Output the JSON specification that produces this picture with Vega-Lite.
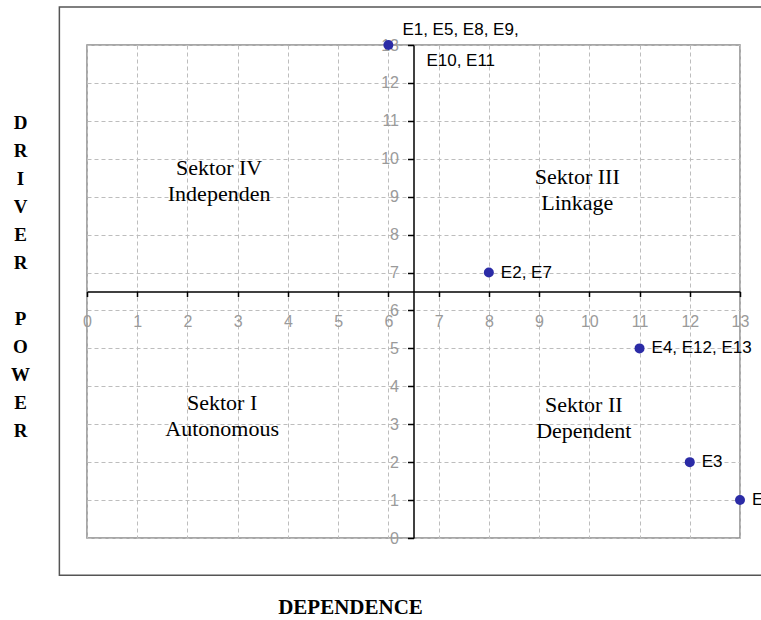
{
  "$schema": "https://vega.github.io/schema/vega-lite/v6.json",
  "width": 653,
  "height": 493,
  "autosize": {"type": "none"},
  "padding": {"left": 87, "top": 45, "right": 21, "bottom": 82},
  "background": "white",
  "config": {
    "view": {"stroke": "#8a8a8a", "strokeWidth": 1.5},
    "axisY": {"tickCount": 14, "labelOverlap": false},
    "axisX": {"tickCount": 14, "labelOverlap": false}
  },
  "datasets": {
    "elements": [
      {"dependence": 6, "driver": 13, "label": "E1, E5, E8, E9,\n\u2800\u2800E10, E11"},
      {"dependence": 8, "driver": 7, "label": "E2, E7"},
      {"dependence": 11, "driver": 5, "label": "E4, E12, E13"},
      {"dependence": 12, "driver": 2, "label": "E3"},
      {"dependence": 13, "driver": 1, "label": "E6"}
    ],
    "sectors": [
      {"dependence": 2.63, "driver": 9.76, "label": "Sektor IV\nIndependen"},
      {"dependence": 9.76, "driver": 9.52, "label": "Sektor III\nLinkage"},
      {"dependence": 2.69, "driver": 3.56, "label": "Sektor I\nAutonomous"},
      {"dependence": 9.89, "driver": 3.51, "label": "Sektor II\nDependent"}
    ],
    "frame": [{}]
  },
  "layer": [
    {
      "data": {"name": "elements"},
      "mark": {"type": "point", "filled": true, "size": 100, "color": "#2b2ba6", "opacity": 1},
      "encoding": {
        "x": {
          "field": "dependence", "type": "quantitative",
          "scale": {"domain": [0, 13], "nice": false, "zero": false},
          "axis": {
            "orient": "bottom", "offset": -246.5,
            "values": [0, 1, 2, 3, 4, 5, 6, 7, 8, 9, 10, 11, 12, 13], "tickCount": 14,
            "grid": true, "gridColor": "#bdbdbd", "gridDash": [4, 3], "gridWidth": 1,
            "domainColor": "#000000", "domainWidth": 1.5,
            "tickColor": "#000000", "tickWidth": 1.5, "tickSize": 5,
            "labelColor": "#9a9a9a", "labelFont": "Liberation Sans", "labelFontSize": 16,
            "labelPadding": 17, "labelFlush": false, "labelOverlap": false,
            "title": "DEPENDENCE", "titleFont": "Liberation Serif", "titleFontWeight": "bold",
            "titleFontSize": 21, "titleColor": "#000000",
            "titleX": 263, "titleY": 316, "titleBaseline": "middle", "titleAlign": "center", "titleAngle": 0
          }
        },
        "y": {
          "field": "driver", "type": "quantitative",
          "scale": {"domain": [0, 13], "nice": false, "zero": false},
          "axis": {
            "orient": "left", "offset": -326.5,
            "values": [0, 1, 2, 3, 4, 5, 6, 7, 8, 9, 10, 11, 12, 13], "tickCount": 14,
            "grid": true, "gridColor": "#bdbdbd", "gridDash": [4, 3], "gridWidth": 1,
            "domainColor": "#000000", "domainWidth": 1.5,
            "tickColor": "#000000", "tickWidth": 1.5, "tickSize": 6,
            "labelColor": "#9a9a9a", "labelFont": "Liberation Sans", "labelFontSize": 16,
            "labelPadding": 9, "labelFlush": false, "labelOverlap": false,
            "title": ["D", "R", "I", "V", "E", "R", "\u2800", "P", "O", "W", "E", "R"],
            "titleFont": "Liberation Serif", "titleFontWeight": "bold", "titleFontSize": 19,
            "titleColor": "#000000", "titleLineHeight": 28,
            "titleX": -393.5, "titleY": 77, "titleBaseline": "middle", "titleAlign": "center", "titleAngle": 0
          }
        }
      }
    },
    {
      "data": {"name": "elements"},
      "transform": [{"filter": "datum.driver != 13"}],
      "mark": {"type": "text", "align": "left", "baseline": "middle", "dx": 12, "font": "Liberation Sans", "fontSize": 17, "color": "#000000"},
      "encoding": {
        "x": {"field": "dependence", "type": "quantitative", "scale": {"domain": [0, 13], "nice": false, "zero": false}},
        "y": {"field": "driver", "type": "quantitative", "scale": {"domain": [0, 13], "nice": false, "zero": false}},
        "text": {"field": "label"}
      }
    },
    {
      "data": {"name": "elements"},
      "transform": [{"filter": "datum.driver == 13"}],
      "mark": {"type": "text", "align": "left", "baseline": "middle", "dx": 14, "dy": -15, "font": "Liberation Sans", "fontSize": 17, "lineHeight": 31, "lineBreak": "\n", "color": "#000000"},
      "encoding": {
        "x": {"field": "dependence", "type": "quantitative", "scale": {"domain": [0, 13], "nice": false, "zero": false}},
        "y": {"field": "driver", "type": "quantitative", "scale": {"domain": [0, 13], "nice": false, "zero": false}},
        "text": {"field": "label"}
      }
    },
    {
      "data": {"name": "sectors"},
      "mark": {"type": "text", "align": "center", "baseline": "middle", "font": "Liberation Serif", "fontSize": 22, "lineHeight": 26, "lineBreak": "\n", "color": "#000000"},
      "encoding": {
        "x": {"field": "dependence", "type": "quantitative", "scale": {"domain": [0, 13], "nice": false, "zero": false}},
        "y": {"field": "driver", "type": "quantitative", "scale": {"domain": [0, 13], "nice": false, "zero": false}},
        "text": {"field": "label"}
      }
    },
    {
      "data": {"name": "frame"},
      "mark": {"type": "rect", "fill": null, "stroke": "#555555", "strokeWidth": 1.5},
      "encoding": {
        "x": {"datum": -0.55, "type": "quantitative", "scale": {"domain": [0, 13], "nice": false, "zero": false}},
        "x2": {"datum": 14.6},
        "y": {"datum": 14.0, "type": "quantitative", "scale": {"domain": [0, 13], "nice": false, "zero": false}},
        "y2": {"datum": -0.98}
      }
    }
  ]
}
